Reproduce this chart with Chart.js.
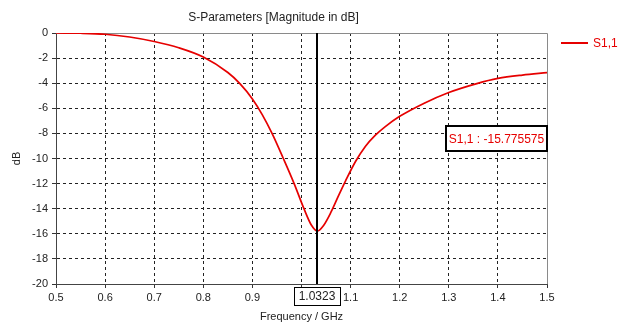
<!DOCTYPE html>
<html>
<head>
<meta charset="utf-8">
<script src="https://cdn.jsdelivr.net/npm/chart.js@4/dist/chart.umd.min.js"></script>
<style>
  html, body { margin: 0; padding: 0; background: #fff; }
</style>
</head>
<body>
<canvas id="chart" width="642" height="326"></canvas>
<script>
// S1,1 sweep, magnitude in dB
const freqGHz = [0.50, 0.55, 0.60, 0.65, 0.70, 0.75, 0.80, 0.85, 0.875, 0.90,
                 0.92, 0.94, 0.963, 0.985, 1.005, 1.02, 1.0323, 1.045, 1.06, 1.075,
                 1.09, 1.11, 1.13, 1.15, 1.17, 1.20, 1.25, 1.30, 1.357, 1.40,
                 1.45, 1.50];
const s11dB = [0.0, -0.02, -0.1, -0.32, -0.68, -1.18, -1.92, -3.15, -4.05, -5.25,
               -6.5, -8.0, -10.0, -12.0, -14.0, -15.3, -15.775575, -15.33, -14.28, -13.0,
               -11.76, -10.24, -9.04, -8.16, -7.48, -6.64, -5.59, -4.74, -4.03, -3.62,
               -3.35, -3.16];

const seriesName = 'S1,1';
const markerFreq = 1.0323;
const markerValue = -15.775575;

const RED = '#e60000';
const FONT = "'Liberation Sans', Arial, sans-serif";

const points = freqGHz.map((f, i) => ({ x: f, y: s11dB[i] }));

const edgeGrid = (min, max) => ctx => {
    const v = ctx.tick.value;
    return (Math.abs(v - min) < 1e-9 || Math.abs(v - max) < 1e-9) ? 'rgba(0,0,0,0)' : '#222';
};

// frame, marker line, value box and legend
const overlay = {
    id: 'overlay',
    beforeDatasetsDraw(chart) {
        const { ctx, chartArea: a } = chart;
        ctx.save();
        ctx.strokeStyle = '#8a8a8a';
        ctx.lineWidth = 1;
        ctx.beginPath();
        ctx.moveTo(a.left, a.top + 0.5);
        ctx.lineTo(a.right + 0.5, a.top + 0.5);
        ctx.lineTo(a.right + 0.5, a.bottom);
        ctx.stroke();
        ctx.restore();
    },
    afterDraw(chart) {
        const { ctx, chartArea: a, scales } = chart;
        const mx = Math.round(scales.x.getPixelForValue(markerFreq));
        ctx.save();

        // vertical marker
        ctx.strokeStyle = '#000';
        ctx.lineWidth = 2;
        ctx.beginPath();
        ctx.moveTo(mx, a.top);
        ctx.lineTo(mx, a.bottom);
        ctx.stroke();

        // marker frequency box on the x axis
        ctx.font = '12px ' + FONT;
        const ftxt = markerFreq.toFixed(4);
        const fw = Math.round(ctx.measureText(ftxt).width + 9);
        const fx = Math.round(mx - fw / 2) + 0.5;
        ctx.fillStyle = '#fff';
        ctx.fillRect(fx, a.bottom + 3.5, fw, 18);
        ctx.lineWidth = 1;
        ctx.strokeStyle = '#000';
        ctx.strokeRect(fx, a.bottom + 3.5, fw, 18);
        ctx.fillStyle = '#222';
        ctx.textAlign = 'center';
        ctx.textBaseline = 'middle';
        ctx.fillText(ftxt, mx, a.bottom + 13);

        // value box
        const vtxt = seriesName + ' : ' + markerValue.toFixed(6);
        const vw = 101, vh = 25;
        const vx = a.right - vw, vy = 126;
        ctx.fillStyle = '#fff';
        ctx.fillRect(vx, vy, vw, vh);
        ctx.lineWidth = 2;
        ctx.strokeStyle = '#000';
        ctx.strokeRect(vx, vy, vw, vh);
        ctx.fillStyle = RED;
        ctx.fillText(vtxt, vx + vw / 2, vy + vh / 2 + 1);

        // legend
        ctx.strokeStyle = RED;
        ctx.lineWidth = 2;
        ctx.beginPath();
        ctx.moveTo(561, 43);
        ctx.lineTo(588, 43);
        ctx.stroke();
        ctx.textAlign = 'left';
        ctx.fillText(chart.data.datasets[0].label, 593, 44);

        ctx.restore();
    }
};

new Chart(document.getElementById('chart'), {
    type: 'line',
    data: {
        datasets: [{
            label: seriesName,
            data: points,
            borderColor: RED,
            borderWidth: 1.7,
            pointRadius: 0,
            fill: false,
            cubicInterpolationMode: 'monotone'
        }]
    },
    options: {
        responsive: false,
        animation: false,
        layout: { padding: { left: 0, right: 95, top: 0, bottom: 0 } },
        plugins: {
            legend: { display: false },
            tooltip: { enabled: false },
            title: {
                display: true,
                text: 'S-Parameters [Magnitude in dB]',
                color: '#222',
                font: { family: FONT, size: 12, weight: 'normal', lineHeight: 1.2 },
                padding: { top: 10, bottom: 8.6 }
            }
        },
        scales: {
            x: {
                type: 'linear',
                min: 0.5,
                max: 1.5,
                ticks: {
                    stepSize: 0.1,
                    color: '#222',
                    font: { family: FONT, size: 11 },
                    padding: 3,
                    maxRotation: 0,
                    callback: v => v.toFixed(1)
                },
                grid: {
                    color: edgeGrid(0.5, 1.5),
                    tickColor: '#333',
                    tickLength: 4,
                    lineWidth: 1
                },
                border: { color: '#444', width: 1, dash: [3, 3] },
                title: {
                    display: true,
                    text: 'Frequency / GHz',
                    color: '#222',
                    font: { family: FONT, size: 11 },
                    padding: { top: 0, bottom: 2.5 }
                },
                afterFit: s => { s.height = 42; }
            },
            y: {
                min: -20,
                max: 0,
                ticks: {
                    stepSize: 2,
                    color: '#222',
                    font: { family: FONT, size: 11 },
                    padding: 4
                },
                grid: {
                    color: edgeGrid(-20, 0),
                    tickColor: '#333',
                    tickLength: 4,
                    lineWidth: 1
                },
                border: { color: '#444', width: 1, dash: [3, 3] },
                title: {
                    display: true,
                    text: 'dB',
                    color: '#222',
                    font: { family: FONT, size: 11 },
                    padding: { top: 10, bottom: 0 }
                },
                afterFit: s => { s.width = 56; }
            }
        }
    },
    plugins: [overlay]
});
</script>
</body>
</html>
